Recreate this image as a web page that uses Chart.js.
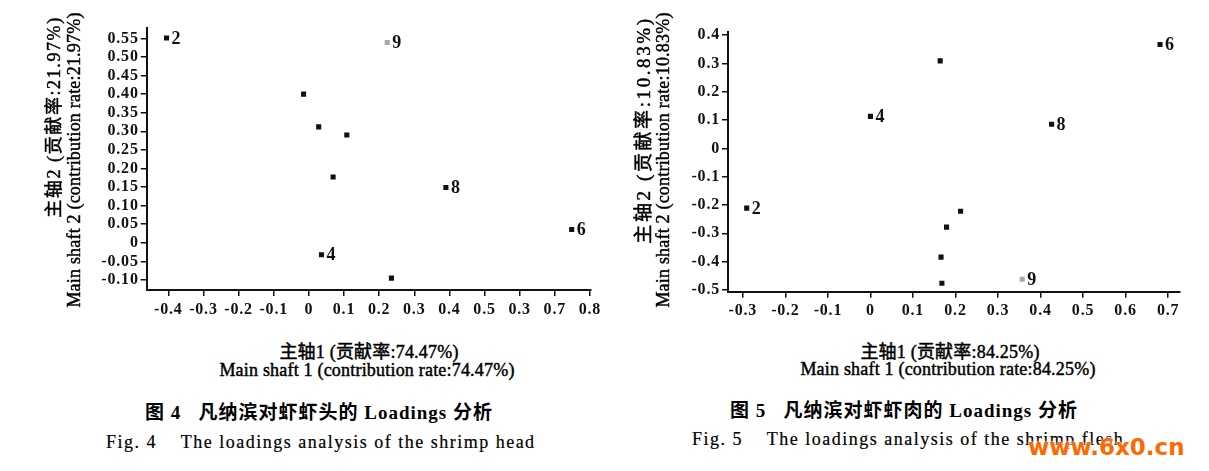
<!DOCTYPE html>
<html>
<head>
<meta charset="utf-8">
<script src="https://cdn.jsdelivr.net/npm/chart.js@4.4.0/dist/chart.umd.min.js"></script>
<style>
  body { margin: 0; background: #fff; }
  #page { position: relative; width: 1209px; height: 471px; overflow: hidden; background: #fff;
          font-family: "Liberation Serif", "Noto Sans CJK SC", serif; color: #000; }
  .box { position: absolute; top: 0; }
  .t { position: absolute; white-space: nowrap; transform: translate(-50%, -50%); }
  .l { position: absolute; white-space: nowrap; transform: translate(0, -50%); }
  .v { transform: translate(-50%, -50%) rotate(-90deg); }
  .ax { font-size: 18px; letter-spacing: 0.2px; -webkit-text-stroke: 0.45px #000; }
  .cap { font-size: 19px; font-weight: bold; letter-spacing: 1px; }
  .fig { font-size: 18px; letter-spacing: 1.5px; -webkit-text-stroke: 0.2px #000; }
  #mark { font-family: "DejaVu Sans", sans-serif; font-weight: bold; font-size: 23px; color: #ff6a00;
          text-shadow: 0 0 2px #fff, 0 0 3px #fff; }
</style>
</head>
<body>
<div id="page">
  <div class="box" style="left:0"><canvas id="head" width="610" height="330"></canvas></div>
  <div class="box" style="left:610px"><canvas id="flesh" width="599" height="330"></canvas></div>

  <div class="t v ax" style="left:52px; top:117px; letter-spacing:1.6px">主轴2 (贡献率:21.97%)</div>
  <div class="t v ax" style="left:74px; top:160px">Main shaft 2 (contribution rate:21.97%)</div>
  <div class="t ax" style="left:369px; top:350px">主轴1 (贡献率:74.47%)</div>
  <div class="t ax" style="left:367px; top:370px">Main shaft 1 (contribution rate:74.47%)</div>
  <div class="l cap" style="left:145px; top:410px">图 4&nbsp;&nbsp; 凡纳滨对虾虾头的 Loadings 分析</div>
  <div class="l fig" style="left:106px; top:442px">Fig. 4&nbsp;&nbsp;&nbsp; The loadings analysis of the shrimp head</div>

  <div class="t v ax" style="left:641px; top:130px; font-size:19px; letter-spacing:2.6px">主轴2 (贡献率:10.83%)</div>
  <div class="t v ax" style="left:663px; top:160px">Main shaft 2 (contribution rate:10.83%)</div>
  <div class="t ax" style="left:950px; top:350px">主轴1 (贡献率:84.25%)</div>
  <div class="t ax" style="left:948px; top:369px">Main shaft 1 (contribution rate:84.25%)</div>
  <div class="l cap" style="left:730px; top:408px">图 5&nbsp;&nbsp; 凡纳滨对虾虾肉的 Loadings 分析</div>
  <div class="l fig" style="left:692px; top:439px">Fig. 5&nbsp;&nbsp;&nbsp; The loadings analysis of the shrimp flesh</div>
  <div class="l" id="mark" style="left:1028px; top:447px">www.6x0.cn</div>
</div>

<script>
// Fig. 4 - shrimp head loadings
const headX = [-0.405, 0.223, -0.015, 0.028, 0.108, 0.069, 0.39, 0.748, 0.036, 0.235];
const headY = [0.551, 0.539, 0.40, 0.312, 0.29, 0.177, 0.149, 0.036, -0.032, -0.095];
const headNames = ['2', '9', '', '', '', '', '8', '6', '4', ''];
const headXTicks = [-0.4, -0.3, -0.2, -0.1, 0, 0.1, 0.2, 0.3, 0.4, 0.5, 0.6, 0.7, 0.8];
// the printed axis really says 0.3 where 0.6 should be
const headXLabels = ['-0.4', '-0.3', '-0.2', '-0.1', '0', '0.1', '0.2', '0.3', '0.4', '0.5', '0.3', '0.7', '0.8'];
const headYTicks = [-0.10, -0.05, 0, 0.05, 0.10, 0.15, 0.20, 0.25, 0.30, 0.35, 0.40, 0.45, 0.50, 0.55];
const headYLabels = ['-0.10', '-0.05', '0', '0.05', '0.10', '0.15', '0.20', '0.25', '0.30', '0.35', '0.40', '0.45', '0.50', '0.55'];

// Fig. 5 - shrimp flesh loadings
const fleshX = [0.681, 0.164, 0.0, 0.426, -0.291, 0.212, 0.179, 0.166, 0.168, 0.357];
const fleshY = [0.367, 0.309, 0.113, 0.085, -0.211, -0.222, -0.278, -0.384, -0.476, -0.462];
const fleshNames = ['6', '', '4', '8', '2', '', '', '', '', '9'];
const fleshXTicks = [-0.3, -0.2, -0.1, 0, 0.1, 0.2, 0.3, 0.4, 0.5, 0.6, 0.7];
const fleshXLabels = ['-0.3', '-0.2', '-0.1', '0', '0.1', '0.2', '0.3', '0.4', '0.5', '0.6', '0.7'];
const fleshYTicks = [-0.5, -0.4, -0.3, -0.2, -0.1, 0, 0.1, 0.2, 0.3, 0.4];
const fleshYLabels = ['-0.5', '-0.4', '-0.3', '-0.2', '-0.1', '0', '0.1', '0.2', '0.3', '0.4'];

const ink = '#111';
const tickFont = { family: 'Liberation Serif', size: 16, weight: 'bold' };

// numbers written next to the marked points
const pointNames = {
    id: 'pointNames',
    beforeDraw(chart) { chart.ctx.letterSpacing = '0.8px'; },
    afterDatasetsDraw(chart, args, opts) {
        const ctx = chart.ctx;
        ctx.save();
        ctx.font = 'bold 18px "Liberation Serif"';
        ctx.fillStyle = ink;
        ctx.textBaseline = 'middle';
        chart.getDatasetMeta(0).data.forEach((pt, i) => {
            if (opts.names[i]) ctx.fillText(opts.names[i], pt.x + 5, pt.y + 1);
        });
        ctx.restore();
    }
};

function axis(min, max, ticks, labels, size, horizontal) {
    return {
        type: 'linear',
        min: min,
        max: max,
        afterBuildTicks: s => { s.ticks = ticks.map(v => ({ value: v })); },
        afterFit: s => { if (horizontal) s.height = size; else s.width = size; },
        grid: { drawOnChartArea: false, drawTicks: true, tickLength: 6, color: ink, lineWidth: 1.5 },
        border: { display: true, color: ink, width: 2 },
        ticks: {
            autoSkip: false, maxRotation: 0, color: ink, font: tickFont,
            padding: horizontal ? 4 : 2,
            callback: (v, i) => labels[i]
        }
    };
}

function drawLoadings(id, xs, ys, names, x, y, padding) {
    new Chart(document.getElementById(id), {
        type: 'scatter',
        data: {
            datasets: [{
                data: xs.map((v, i) => ({ x: v, y: ys[i] })),
                pointStyle: 'rect',
                pointRadius: 3.6,
                borderWidth: 0,
                backgroundColor: c => names[c.dataIndex] === '9' ? '#aaa' : ink
            }]
        },
        options: {
            responsive: false,
            animation: false,
            layout: { padding: padding },
            plugins: { legend: { display: false }, tooltip: { enabled: false }, pointNames: { names: names } },
            scales: { x: x, y: y }
        },
        plugins: [pointNames]
    });
}

drawLoadings('head', headX, headY, headNames,
    axis(-0.4615, 0.803, headXTicks, headXLabels, 40, true),
    axis(-0.127, 0.578, headYTicks, headYLabels, 66.7, false),
    { left: 80, top: 28, right: 19, bottom: 0 });

drawLoadings('flesh', fleshX, fleshY, fleshNames,
    axis(-0.335, 0.728, fleshXTicks, fleshXLabels, 38.3, true),
    axis(-0.506, 0.412, fleshYTicks, fleshYLabels, 60, false),
    { left: 58, top: 31.7, right: 29, bottom: 0 });
</script>
</body>
</html>
